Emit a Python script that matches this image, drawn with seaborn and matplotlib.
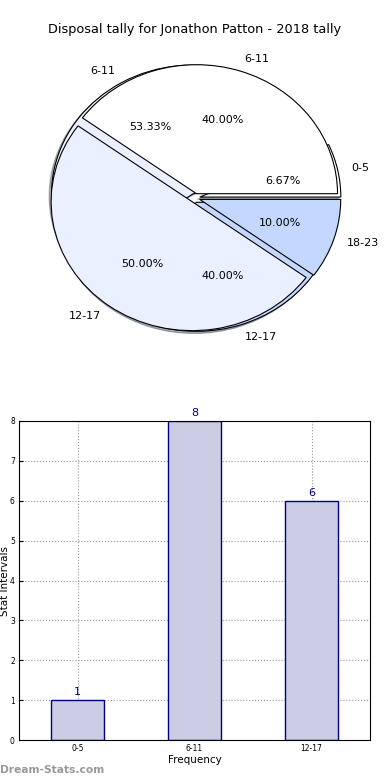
import numpy as np
import matplotlib
matplotlib.use("Agg")
import matplotlib.pyplot as plt
import seaborn as sns
import pandas as pd

sns.set_style("white")
plt.rcParams['font.family'] = ['DejaVu Sans']
plt.rcParams['text.color'] = 'black'
plt.rcParams['axes.labelcolor'] = 'black'
plt.rcParams['xtick.color'] = 'black'
plt.rcParams['ytick.color'] = 'black'

# pie 1 (drawn with shadow)
pie1_labels = ['0-5', '6-11', '12-17']
pie1_values = [1, 8, 6]
# pie 2 (drawn on top)
pie2_labels = ['6-11', '12-17', '18-23']
pie2_values = [4, 5, 1]

# bar chart
bar_cats = ['0-5', '6-11', '12-17']
bar_vals = [1, 8, 6]

pie_colors = ['#FFFFFF', '#EAF0FF', '#C4D8FF']

fig = plt.figure(figsize=(3.9, 7.8), dpi=100)

# pie axes (slightly flattened, like the old output)
W, H = 390.0, 780.0
cx, cy = 195, 198
rx, ry = 141, 129
lim = 1.3
ax1 = fig.add_axes([(cx - lim * rx) / W, 1 - (cy + lim * ry) / H,
                    2 * lim * rx / W, 2 * lim * ry / H])
wp = dict(edgecolor='black', linewidth=0.8)
ax1.pie(pie1_values, labels=pie1_labels, colors=pie_colors, autopct='%.2f%%',
        explode=[0.035] * 3, shadow=dict(ox=-0.012, oy=-0.012, shade=0.6),
        wedgeprops=wp, textprops=dict(fontsize=8))
ax1.pie(pie2_values, labels=pie2_labels, colors=pie_colors, autopct='%.2f%%',
        explode=[0.035] * 3, wedgeprops=wp, textprops=dict(fontsize=8))
ax1.set_aspect('auto')
ax1.set_xlim(-lim, lim)
ax1.set_ylim(-lim, lim)
fig.text(0.5, 1 - 30 / H, 'Disposal tally for Jonathon Patton - 2018 tally',
         ha='center', va='center', fontsize=9.3)

# bar axes
ax2 = fig.add_axes([19 / W, 40 / H, 351 / W, 319 / H])
df = pd.DataFrame({'cat': bar_cats, 'val': bar_vals})
sns.barplot(data=df, x='cat', y='val', ax=ax2, color='#CCCCE5', saturation=1,
            edgecolor='#000080', linewidth=1.0, width=0.45, zorder=2)
for i, v in enumerate(bar_vals):
    ax2.text(i, v + 0.08, str(v), ha='center', va='bottom', color='#000080', fontsize=8)
ax2.set_xlim(-0.5, 2.5)
ax2.set_ylim(0, 8)
ax2.grid(True, linestyle=':', color='#999999', linewidth=0.8, zorder=0)
ax2.set_axisbelow(True)
for s in ax2.spines.values():
    s.set_color('black')
    s.set_linewidth(0.8)
ax2.tick_params(labelsize=5.5, direction='in', length=3, left=True, bottom=True, pad=3)
ax2.set_xlabel('Frequency', fontsize=7.5, labelpad=1)
ax2.set_ylabel('Stat Intervals', fontsize=7.5, labelpad=0)

fig.text(0.0, 1 - 770 / H, 'Dream-Stats.com', color='#999999', fontsize=7.7,
         fontweight='bold', ha='left', va='center')

fig.savefig('out.png', dpi=100)
